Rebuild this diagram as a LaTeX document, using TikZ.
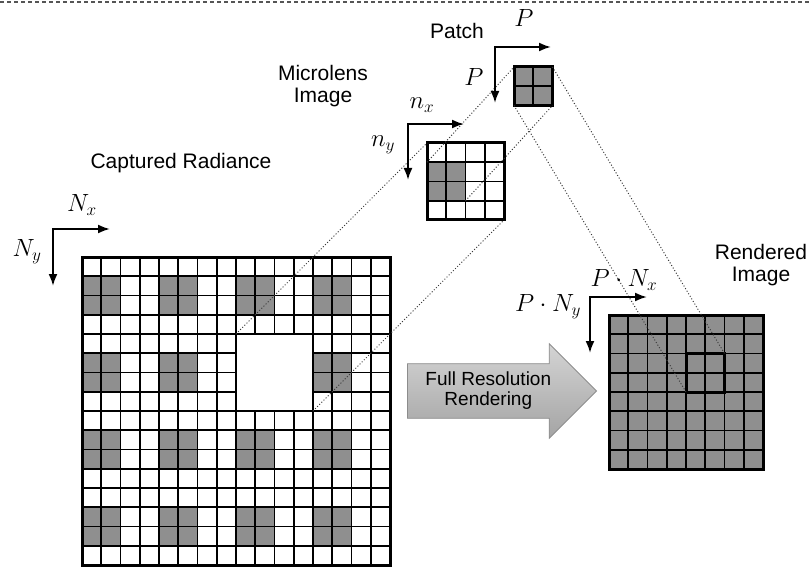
\documentclass[tikz,border=0pt]{standalone}
\usepackage{fontspec}
\setmainfont{Liberation Sans}
\usetikzlibrary{arrows.meta,calc,positioning,shapes.arrows}
\definecolor{Cell}{HTML}{8F8F8F}
\definecolor{Ray}{HTML}{3A3A3A}
\definecolor{Rule}{HTML}{555555}
\definecolor{ArrowTop}{HTML}{D4D4D4}
\definecolor{ArrowBot}{HTML}{A4A4A4}
\definecolor{ArrowRim}{HTML}{8C8C8C}
\newcommand\cellw{19.25}
\tikzset{caption/.style={font=\fontsize{21}{22}\selectfont,align=center},sym/.style={font=\fontsize{23}{26}\selectfont,inner sep=0pt},axis/.style={<->,>={Latex[length=12pt,width=9pt]},line width=2pt},ray/.style={draw=Ray,line width=1pt,dash pattern=on 1pt off 2pt},cellline/.style={line width=1.6pt},blockline/.style={line width=2.8pt},rim/.style={line width=3pt},bigarrow/.style={single arrow,draw=ArrowRim,line width=.8pt,top color=ArrowTop,bottom color=ArrowBot,minimum height=189pt,single arrow head extend=20pt,single arrow head indent=0pt,inner ysep=8pt,inner xsep=4pt,align=center,font=\fontsize{19}{20}\selectfont}}

\begin{document}
\begin{tikzpicture}[x=1pt,y=-1pt]
      \useasboundingbox (0,0) rectangle (812,567);
      \draw[Rule,line width=1.2pt,dash pattern=on 4pt off 3pt] (0,2) -- (812,2);
      % captured radiance
      \begin{scope}[shift={(82,257)}]
        \foreach \bx in {0,...,3}{\foreach \by in {0,...,3}{
          \pgfmathtruncatemacro\hole{and(\bx==2,\by==1)}
          \ifnum\hole=0
            \fill[Cell] (\bx*77,\by*77+\cellw) rectangle ++(2*\cellw,2*\cellw);
            \foreach \k in {1,2,3}{\draw[cellline] (\bx*77+\k*\cellw,\by*77) -- ++(0,77);\draw[cellline] (\bx*77,\by*77+\k*\cellw) -- ++(77,0);}
          \fi}}
        \foreach \k in {1,2,3}{\draw[blockline] (\k*77,0) -- (\k*77,308);\draw[blockline] (0,\k*77) -- (308,\k*77);}
        \draw[rim] (0,0) rectangle (308,308);
        \coordinate (hole-nw) at (154,77);\coordinate (hole-se) at (231,154);
      \end{scope}
      % microlens image
      \begin{scope}[shift={(427,143)}]
        \fill[Cell] (0,\cellw) rectangle (2*\cellw,3*\cellw);
        \foreach \k in {1,2,3}{\draw[cellline] (\k*\cellw,0) -- (\k*\cellw,77);\draw[cellline] (0,\k*\cellw) -- (77,\k*\cellw);}
        \draw[rim] (0,0) rectangle (77,77);
        \coordinate (micro-nw) at (0,0);\coordinate (micro-se) at (77,77);
        \coordinate (lens-nw) at (0,\cellw);\coordinate (lens-se) at (2*\cellw,3*\cellw);
      \end{scope}
      % patch
      \begin{scope}[shift={(514,67)}]
        \fill[Cell] (0,0) rectangle (2*\cellw,2*\cellw);
        \draw[cellline] (\cellw,0) -- (\cellw,2*\cellw);\draw[cellline] (0,\cellw) -- (2*\cellw,\cellw);
        \draw[rim] (0,0) rectangle (2*\cellw,2*\cellw);
        \coordinate (patch-nw) at (0,0);\coordinate (patch-ne) at (2*\cellw,0);
        \coordinate (patch-sw) at (0,2*\cellw);\coordinate (patch-se) at (2*\cellw,2*\cellw);
      \end{scope}
      % rendered image
      \begin{scope}[shift={(609,315)}]
        \fill[Cell] (0,0) rectangle (8*\cellw,8*\cellw);
        \foreach \k in {1,...,7}{\draw[cellline] (\k*\cellw,0) -- (\k*\cellw,8*\cellw);\draw[cellline] (0,\k*\cellw) -- (8*\cellw,\k*\cellw);}
        \draw[rim] (0,0) rectangle (8*\cellw,8*\cellw);
        \draw[rim] (4*\cellw,2*\cellw) rectangle (6*\cellw,4*\cellw);
        \coordinate (spot-ne) at (6*\cellw,2*\cellw);\coordinate (spot-sw) at (4*\cellw,4*\cellw);
      \end{scope}
      % rays
      \draw[ray] (hole-nw) -- (micro-nw);\draw[ray] (hole-se) -- (micro-se);
      \draw[ray] (lens-nw) -- (patch-nw);\draw[ray] (lens-se) -- (patch-se);
      \draw[ray] (patch-sw) -- (spot-sw);\draw[ray] (patch-ne) -- (spot-ne);
      % axes
      \coordinate (radO) at (53,229);\coordinate (radX) at (110,229);\coordinate (radY) at (53,286);
      \coordinate (micO) at (408,124);\coordinate (micX) at (464,124);\coordinate (micY) at (408,180);
      \coordinate (patO) at (495,47);\coordinate (patX) at (551,47);\coordinate (patY) at (495,103);
      \coordinate (renO) at (590,297);\coordinate (renX) at (647,297);\coordinate (renY) at (590,353);
      \draw[axis] (radX) -- (radO) -- (radY);\draw[axis] (micX) -- (micO) -- (micY);
      \draw[axis] (patX) -- (patO) -- (patY);\draw[axis] (renX) -- (renO) -- (renY);
      \node[sym] (Nx) at (82,205) {$N_x$};\node[sym] (Ny) at (27,252) {$N_y$};
      \node[sym] (nx) at (422,105) {$n_x$};\node[sym] (ny) at (383,145) {$n_y$};
      \node[sym] (Px) at (524,18) {$P$};\node[sym] (Py) at (474,77) {$P$};
      \node[sym] (PNx) at (624,280) {$P\cdot N_x$};\node[sym] (PNy) at (548,307) {$P\cdot N_y$};
      % captions
      \node[caption] (radiance) at (181,163) {Captured Radiance};
      \node[caption] (microlens) at (323,86) {Microlens\\Image};
      \node[caption] (patch) at (457,31) {Patch};
      \node[caption] (rendered) at (761,265) {Rendered\\Image};
      \node[bigarrow,anchor=tip] (render) at (597,391) {Full Resolution\\Rendering};
    \end{tikzpicture}
\end{document}
